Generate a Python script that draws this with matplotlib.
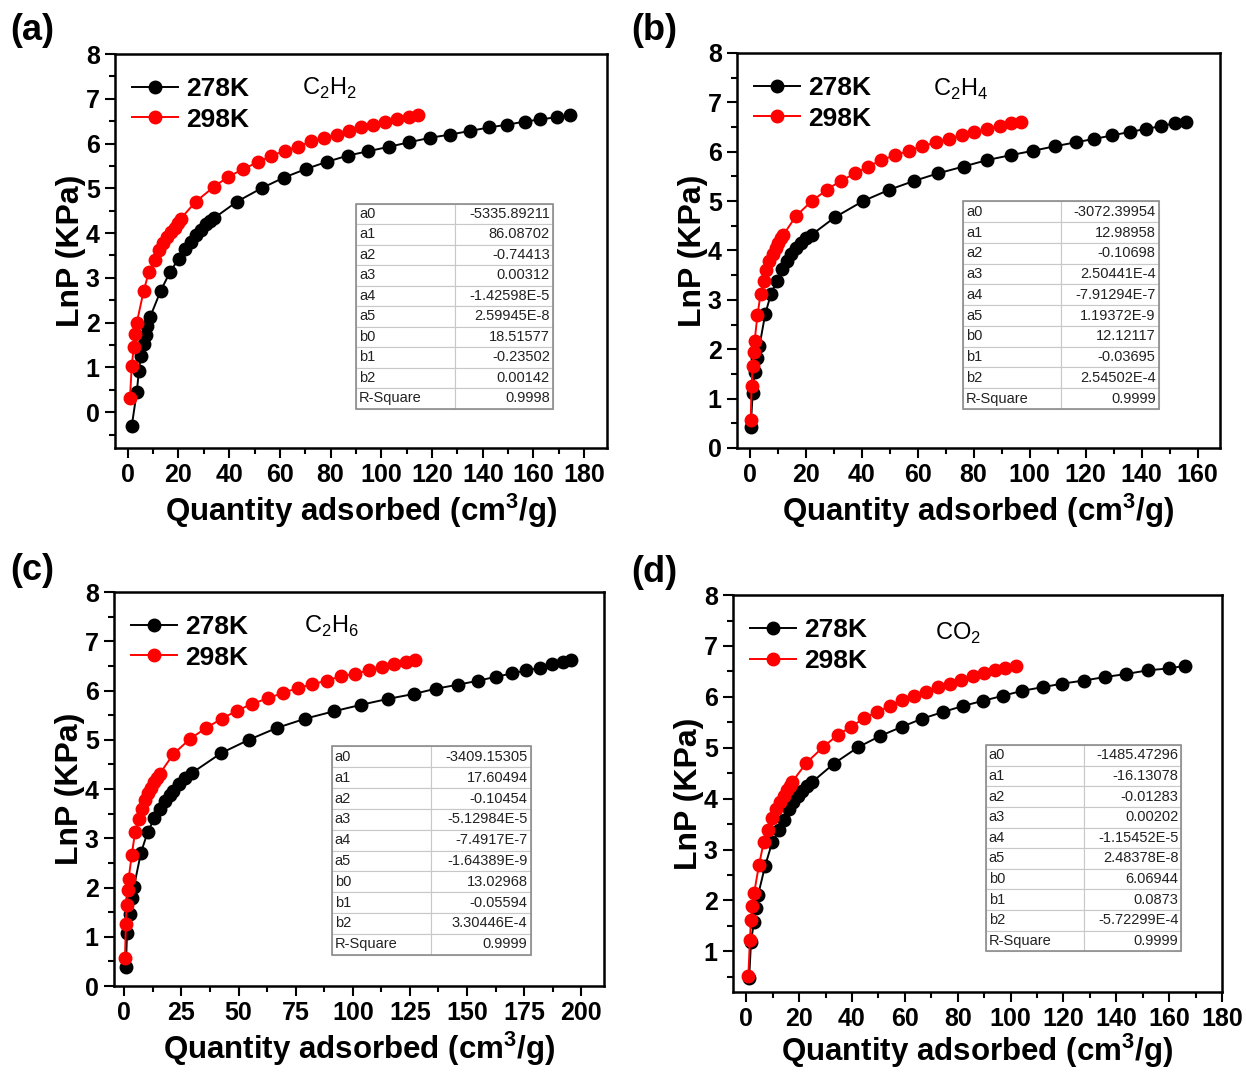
import matplotlib
matplotlib.use("Agg")
import matplotlib.pyplot as plt
from matplotlib.ticker import MultipleLocator
from matplotlib.patches import Rectangle

plt.rcParams['font.family'] = ['Liberation Sans', 'DejaVu Sans']
plt.rcParams['mathtext.fontset'] = 'custom'
plt.rcParams['mathtext.rm'] = 'Liberation Sans'
plt.rcParams['mathtext.bf'] = 'Liberation Sans:bold'

# ---- (a) C2H2 ----
a_x278 = [1.6, 3.6, 4.4, 5.2, 6.3, 7.2, 7.8, 8.8, 13.0, 16.6, 20.1, 22.4, 24.8, 26.8, 29.0, 30.7,
          32.6, 34.2, 43.0, 53.0, 61.6, 70.2, 78.4, 86.7, 94.9, 103.2, 111.0, 119.3, 127.0, 134.8,
          142.4, 149.4, 156.5, 162.7, 169.3, 174.2]
a_y278 = [-0.31, 0.46, 0.91, 1.26, 1.53, 1.73, 1.93, 2.12, 2.71, 3.12, 3.43, 3.65, 3.81, 3.95, 4.08,
          4.20, 4.28, 4.34, 4.70, 5.01, 5.24, 5.43, 5.59, 5.73, 5.83, 5.93, 6.03, 6.13, 6.20, 6.28,
          6.36, 6.42, 6.49, 6.54, 6.59, 6.63]
a_x298 = [0.9, 1.6, 2.4, 2.8, 3.6, 6.3, 8.3, 10.7, 12.2, 13.8, 15.4, 16.9, 18.5, 19.8, 20.9, 26.8,
          33.9, 39.7, 45.6, 51.4, 56.6, 61.9, 67.1, 72.3, 77.3, 82.5, 87.2, 91.9, 96.9, 101.3,
          106.3, 111.0, 114.6]
a_y298 = [0.31, 1.03, 1.46, 1.75, 2.00, 2.71, 3.12, 3.41, 3.62, 3.78, 3.91, 4.02, 4.12, 4.22, 4.32,
          4.70, 5.03, 5.26, 5.43, 5.59, 5.72, 5.84, 5.93, 6.05, 6.13, 6.20, 6.28, 6.36, 6.42, 6.49,
          6.55, 6.59, 6.63]
a_fit = ["-5335.89211", "86.08702", "-0.74413", "0.00312", "-1.42598E-5", "2.59945E-8",
         "18.51577", "-0.23502", "0.00142", "0.9998"]

# ---- (b) C2H4 ----
b_x278 = [0.4, 1.1, 1.8, 2.5, 3.5, 5.6, 7.6, 9.8, 11.7, 13.2, 14.9, 16.6, 18.3, 20.1, 22.2, 30.4,
          40.5, 49.9, 58.8, 67.2, 76.4, 84.8, 93.2, 101.3, 109.0, 116.5, 123.1, 129.5, 135.7,
          141.5, 147.1, 152.0, 155.8]
b_y278 = [0.42, 1.12, 1.53, 1.82, 2.06, 2.72, 3.11, 3.39, 3.62, 3.78, 3.92, 4.04, 4.16, 4.25, 4.32,
          4.67, 5.00, 5.23, 5.41, 5.56, 5.70, 5.83, 5.93, 6.02, 6.11, 6.19, 6.26, 6.33, 6.40,
          6.46, 6.52, 6.58, 6.61]
b_x298 = [0.4, 0.7, 1.1, 1.5, 1.8, 2.8, 3.9, 5.1, 6.0, 7.0, 8.2, 9.3, 10.3, 11.3, 12.1, 16.6,
          22.2, 27.6, 32.5, 37.7, 42.3, 47.1, 52.0, 57.0, 61.6, 66.5, 71.2, 75.9, 80.3, 84.8,
          89.3, 93.2, 96.8]
b_y298 = [0.56, 1.26, 1.67, 1.95, 2.17, 2.69, 3.11, 3.39, 3.60, 3.78, 3.92, 4.04, 4.16, 4.25, 4.32,
          4.70, 5.00, 5.23, 5.41, 5.56, 5.70, 5.83, 5.93, 6.02, 6.11, 6.19, 6.26, 6.33, 6.40, 6.46,
          6.52, 6.58, 6.61]
b_fit = ["-3072.39954", "12.98958", "-0.10698", "2.50441E-4", "-7.91294E-7", "1.19372E-9",
         "12.12117", "-0.03695", "2.54502E-4", "0.9999"]

# ---- (c) C2H6 ----
c_x278 = [0.7, 1.2, 2.4, 3.3, 4.2, 7.3, 10.2, 13.2, 15.5, 17.7, 19.8, 21.2, 24.1, 26.7, 29.7, 42.4,
          54.5, 66.7, 79.3, 91.8, 103.6, 115.3, 126.6, 136.6, 146.2, 154.9, 162.7, 169.9, 176.0,
          182.1, 187.3, 192.0, 195.7]
c_y278 = [0.39, 1.08, 1.47, 1.78, 2.01, 2.71, 3.12, 3.41, 3.60, 3.76, 3.87, 3.97, 4.11, 4.22, 4.33,
          4.73, 5.00, 5.24, 5.43, 5.58, 5.71, 5.83, 5.93, 6.04, 6.12, 6.20, 6.28, 6.35, 6.41,
          6.46, 6.53, 6.59, 6.62]
c_x298 = [0.3, 0.7, 1.0, 1.6, 1.9, 3.3, 4.7, 6.3, 7.6, 9.0, 10.2, 11.5, 12.8, 14.1, 15.5, 21.5,
          28.8, 35.8, 42.7, 49.3, 55.9, 62.7, 69.3, 75.9, 82.3, 88.7, 94.8, 101.0, 106.9, 112.7,
          118.1, 123.4, 127.4]
c_y298 = [0.56, 1.25, 1.65, 1.94, 2.18, 2.67, 3.12, 3.40, 3.60, 3.78, 3.91, 4.02, 4.14, 4.22, 4.31,
          4.71, 5.02, 5.24, 5.43, 5.59, 5.73, 5.84, 5.95, 6.05, 6.13, 6.20, 6.29, 6.34, 6.41, 6.48,
          6.53, 6.59, 6.62]
c_fit = ["-3409.15305", "17.60494", "-0.10454", "-5.12984E-5", "-7.4917E-7", "-1.64389E-9",
         "13.02968", "-0.05594", "3.30446E-4", "0.9999"]

# ---- (d) CO2 ----
d_x278 = [1.1, 1.8, 2.9, 3.6, 4.5, 7.1, 9.8, 12.4, 14.4, 16.2, 17.7, 19.6, 21.1, 23.0, 24.8, 33.2,
          42.3, 50.6, 58.8, 66.5, 74.3, 81.9, 89.4, 97.0, 104.5, 112.1, 119.6, 127.6, 135.8,
          143.8, 151.8, 160.0, 166.0]
d_y278 = [0.48, 1.18, 1.58, 1.86, 2.11, 2.67, 3.14, 3.39, 3.59, 3.79, 3.93, 4.05, 4.15, 4.25, 4.32,
          4.69, 5.01, 5.23, 5.41, 5.57, 5.70, 5.82, 5.92, 6.02, 6.12, 6.19, 6.26, 6.32, 6.39,
          6.45, 6.52, 6.56, 6.61]
d_x298 = [0.8, 1.4, 1.8, 2.3, 3.0, 4.8, 6.6, 8.3, 9.8, 11.3, 12.8, 14.2, 15.4, 16.5, 17.4, 22.7,
          29.0, 34.6, 39.6, 44.6, 49.4, 54.2, 58.9, 63.4, 68.0, 72.5, 76.9, 81.4, 85.6, 89.9,
          94.0, 98.0, 102.0]
d_y298 = [0.52, 1.23, 1.62, 1.90, 2.15, 2.69, 3.14, 3.39, 3.61, 3.79, 3.94, 4.06, 4.16, 4.25, 4.33,
          4.70, 5.01, 5.25, 5.41, 5.58, 5.70, 5.82, 5.94, 6.02, 6.10, 6.19, 6.26, 6.34, 6.41, 6.47,
          6.53, 6.57, 6.61]
d_fit = ["-1485.47296", "-16.13078", "-0.01283", "0.00202", "-1.15452E-5", "2.48378E-8",
         "6.06944", "0.0873", "-5.72299E-4", "0.9999"]

param_names = ["a0", "a1", "a2", "a3", "a4", "a5", "b0", "b1", "b2", "R-Square"]

panels = [
    dict(tag="(a)", gas=r"C$_{\mathrm{2}}$H$_{\mathrm{2}}$", x278=a_x278, y278=a_y278,
         x298=a_x298, y298=a_y298, fit=a_fit, xlim=(-5, 189), ylim=(-0.8, 8), xmaj=20,
         xmax=180, ymin=0, pos=[0.0923, 0.5821, 0.3949, 0.3675], xlpad=3,
         table=[0.49, 0.10, 0.40, 0.52], gas_xy=(0.435, 0.912), tag_xy=(0.008, 0.972)),
    dict(tag="(b)", gas=r"C$_{\mathrm{2}}$H$_{\mathrm{4}}$", x278=b_x278, y278=b_y278,
         x298=b_x298, y298=b_y298, fit=b_fit, xlim=(-4.5, 168), ylim=(0, 8), xmaj=20,
         xmax=160, ymin=0, pos=[0.5915, 0.5821, 0.3876, 0.3685], xlpad=3,
         table=[0.468, 0.099, 0.405, 0.525], gas_xy=(0.464, 0.909), tag_xy=(0.507, 0.972)),
    dict(tag="(c)", gas=r"C$_{\mathrm{2}}$H$_{\mathrm{6}}$", x278=c_x278, y278=c_y278,
         x298=c_x298, y298=c_y298, fit=c_fit, xlim=(-4.5, 210), ylim=(0, 8), xmaj=25,
         xmax=200, ymin=0, pos=[0.0915, 0.0802, 0.3933, 0.3675], xlpad=3,
         table=[0.444, 0.08, 0.406, 0.528], gas_xy=(0.444, 0.912), tag_xy=(0.008, 0.468)),
    dict(tag="(d)", gas=r"CO$_{\mathrm{2}}$", x278=d_x278, y278=d_y278,
         x298=d_x298, y298=d_y298, fit=d_fit, xlim=(-5, 180), ylim=(0.2, 8), xmaj=20,
         xmax=180, ymin=1, pos=[0.5883, 0.0746, 0.3925, 0.3703], xlpad=0,
         table=[0.517, 0.103, 0.40, 0.519], gas_xy=(0.46, 0.904), tag_xy=(0.507, 0.466)),
]

fig = plt.figure(figsize=(12.46, 10.72), dpi=100)

for p in panels:
    ax = fig.add_axes(p["pos"])
    ax.plot(p["x278"], p["y278"], color="black", marker="o", markersize=9, lw=1.4, label="278K")
    ax.plot(p["x298"], p["y298"], color="red", marker="o", markersize=9, lw=1.4, label="298K")

    ax.set_xlim(*p["xlim"])
    ax.set_ylim(*p["ylim"])
    ax.set_xticks(range(0, p["xmax"] + 1, p["xmaj"]))
    ax.set_yticks(range(p["ymin"], 9))
    ax.xaxis.set_minor_locator(MultipleLocator(p["xmaj"] / 2))
    ax.yaxis.set_minor_locator(MultipleLocator(0.5))
    ax.tick_params(which="major", direction="out", length=7, width=1.5, labelsize=18, pad=4)
    ax.tick_params(which="minor", direction="out", length=4, width=1.5)
    for lab in ax.get_xticklabels() + ax.get_yticklabels():
        lab.set_fontweight("bold")
    for s in ax.spines.values():
        s.set_linewidth(1.8)

    ax.set_xlabel(r"Quantity adsorbed (cm$^{\mathbf{3}}$/g)", fontsize=22.5, fontweight="bold",
                  labelpad=p["xlpad"])
    ax.set_ylabel("LnP (KPa)", fontsize=23, fontweight="bold", labelpad=0)

    ax.legend(loc="upper left", bbox_to_anchor=(0.0, 0.985), frameon=False,
              prop=dict(size=19, weight="bold"), handlelength=1.75,
              handletextpad=0.3, labelspacing=0.25, borderaxespad=0.25)

    ax.text(*p["gas_xy"], p["gas"], transform=ax.transAxes, fontsize=17, ha="center", va="center")
    fig.text(*p["tag_xy"], p["tag"], fontsize=26, fontweight="bold", ha="left", va="center")

    # fit parameter table
    tx, ty, tw, th = p["table"]
    rows = [[n, v] for n, v in zip(param_names, p["fit"])]
    tab = ax.table(cellText=rows, colWidths=[0.5, 0.5], bbox=[tx, ty, tw, th], zorder=5)
    tab.auto_set_font_size(False)
    for (r, c), cell in tab.get_celld().items():
        cell.set_edgecolor("#c8c8c8")
        cell.set_linewidth(0.8)
        cell.set_facecolor("white")
        cell.get_text().set_fontsize(10.5)
        cell.get_text().set_color("#222222")
        cell.set_text_props(ha="left" if c == 0 else "right")
        cell.PAD = 0.03
    ax.add_patch(Rectangle((tx, ty), tw, th, transform=ax.transAxes, fill=False,
                           edgecolor="#8c8c8c", lw=1.2, zorder=6))

fig.savefig("out.png", dpi=100)
